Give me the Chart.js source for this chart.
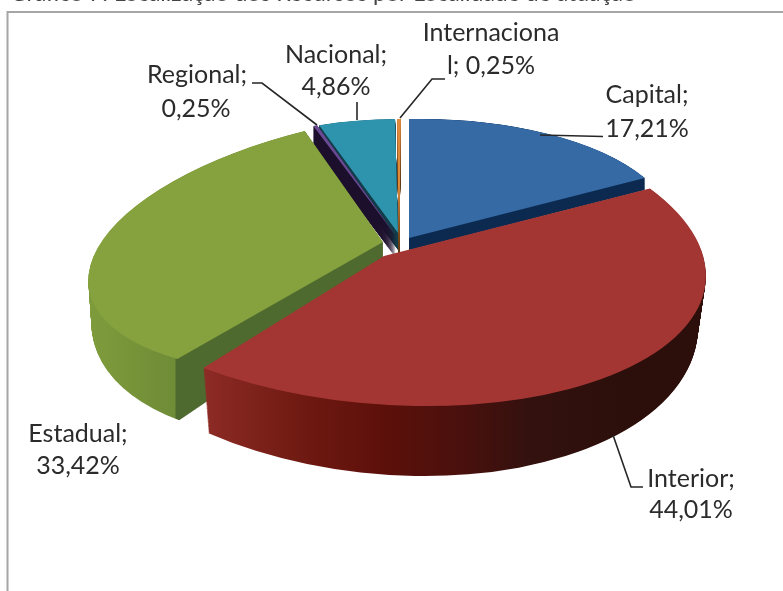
<!DOCTYPE html>
<html>
<head>
<meta charset="utf-8">
<title>Localização dos recursos</title>
<script src="https://cdn.jsdelivr.net/npm/chart.js@4/dist/chart.umd.min.js"></script>
<style>
  html, body { margin: 0; padding: 0; background: #fff; overflow: hidden; }
  #frame { position: absolute; left: 0; top: 0; width: 783px; height: 591px; }
</style>
</head>
<body>
<div id="frame"><canvas id="pie-chart" width="783" height="591"></canvas></div>
<script>
// Data
var categories = ['Capital', 'Interior', 'Estadual', 'Regional', 'Nacional', 'Internacional'];
var shares = [17.21, 44.01, 33.42, 0.25, 4.86, 0.25];
var shareLabels = ['17,21%', '44,01%', '33,42%', '0,25%', '4,86%', '0,25%'];
var titleText = 'Gráfico 7: Localização dos Recursos por Localidade de atuação';

var topColors = ['#356aa5', '#a33632', '#86a23e', '#6a4a93', '#2e93ad', '#e08a3c'];

// 3D look: each slice has a top face and a floor, given as an affine view of the unit pie
// [a, b, c, d, e, f] -> x' = a*x + b*y + e, y' = c*x + d*y + f
var views = {
  Capital: { top: [267, 0, -4.7, 119, 409, 238], floor: [267, 0, -4.7, 119, 409, 250] },
  Interior: { top: [320, 35, 3.4, 150, 384, 256], floor: [312, 35, 3, 171, 384, 305] },
  Estadual: { top: [294, -20, -30, 128, 383, 242], floor: [291, -20, -30, 156, 383, 282] },
  Regional: { top: [250, 0, -1, 117, 396, 236], floor: [250, 0, -1, 117, 396, 258] },
  Nacional: { top: [253, -1, -1, 114, 398, 233], floor: [253, -1, -1, 114, 398, 250] },
  Internacional: { top: [255, -2, 0, 131, 399, 250], floor: [255, -2, 0, 131, 399, 262] }
};
// back slices first, the big front one last
var drawOrder = ['Internacional', 'Nacional', 'Regional', 'Capital', 'Estadual', 'Interior'];

// wall shading runs across the screen: [x, colour] stops
var wallStops = {
  Capital: [[0, '#0c2a50'], [783, '#0c2a50']],
  Interior: [[203, '#8e2b26'], [300, '#6f1a12'], [380, '#5e100a'], [460, '#4a100d'], [530, '#33110e'], [620, '#2c0f0b'], [705, '#2c0f0b']],
  Estadual: [[88, '#7f9c3c'], [175, '#6f8c37'], [176, '#4f6a2e'], [385, '#4f6a2e']],
  Regional: [[0, '#1c0f2c'], [783, '#1c0f2c']],
  Nacional: [[0, '#123c4a'], [783, '#123c4a']],
  Internacional: [[0, '#5a3410'], [783, '#5a3410']]
};

// label spots as two lines: [x, baseline] each
var labelFont = '25px Lato';
var labelSpots = {
  Capital: [[647, 103], [647, 137]],
  Interior: [[691, 487], [691, 518]],
  Estadual: [[78, 442], [78, 474]],
  Regional: [[197, 83], [196, 117]],
  Nacional: [[336, 63], [336, 95]],
  Internacional: [[491, 41], [491, 74]]
};
var leaders = [
  [[540, 135], [603, 136.5]],
  [[613, 435], [631, 487], [643, 487]],
  [[252, 83], [262, 83], [317, 125]],
  [[357, 102], [357, 120]],
  [[445, 79], [432, 79], [400, 118]]
];

// the long name wraps inside the word in the original
function labelText(i) {
  var name = categories[i];
  if (name === 'Internacional') return ['Internaciona', 'l; ' + shareLabels[i]];
  return [name + ';', shareLabels[i]];
}

function drawArc(ctx, arc, view, fill) {
  var k = 1 / arc.outerRadius;
  var saved = arc.options;
  ctx.save();
  ctx.transform(view[0] * k, view[2] * k, view[1] * k, view[3] * k, view[4], view[5]);
  ctx.translate(-arc.x, -arc.y);
  arc.options = Object.assign({}, saved, { backgroundColor: fill });
  arc.draw(ctx);
  arc.options = saved;
  ctx.restore();
}

// sweep the slice from floor to top on a spare canvas, then tint it in screen space
function drawWall(ctx, arc, name) {
  var v = views[name];
  var spare = document.createElement('canvas');
  spare.width = ctx.canvas.width;
  spare.height = ctx.canvas.height;
  var sctx = spare.getContext('2d');
  var steps = 70;
  for (var s = steps; s > 0; s--) {
    var t = s / steps;
    var mix = v.top.map(function(n, j) { return n + (v.floor[j] - n) * t; });
    drawArc(sctx, arc, mix, '#000');
  }
  var stops = wallStops[name];
  var x0 = stops[0][0];
  var x1 = stops[stops.length - 1][0];
  var g = sctx.createLinearGradient(x0, 0, x1, 0);
  stops.forEach(function(st) {
    g.addColorStop((st[0] - x0) / (x1 - x0), st[1]);
  });
  sctx.globalCompositeOperation = 'source-in';
  sctx.fillStyle = g;
  sctx.fillRect(0, 0, spare.width, spare.height);
  ctx.drawImage(spare, 0, 0);
}

var pie3d = {
  id: 'pie3d',
  beforeDatasetsDraw: function(chart) {
    var ctx = chart.ctx;
    var arcs = chart.getDatasetMeta(0).data;
    drawOrder.forEach(function(name) {
      var i = categories.indexOf(name);
      drawWall(ctx, arcs[i], name);
      drawArc(ctx, arcs[i], views[name].top, topColors[i]);
    });
    return false;
  },
  afterDraw: function(chart) {
    var ctx = chart.ctx;
    ctx.save();
    // frame, only left and top edges are inside the crop
    ctx.strokeStyle = '#a6a6a6';
    ctx.lineWidth = 2;
    ctx.beginPath();
    ctx.moveTo(7.5, 591);
    ctx.lineTo(7.5, 12);
    ctx.lineTo(783, 12);
    ctx.stroke();
    // caption above the chart, mostly cut by the crop
    ctx.fillStyle = '#444';
    ctx.font = '23px Lato';
    ctx.textAlign = 'left';
    ctx.fillText(titleText, 10, 1);
    // leader lines
    ctx.strokeStyle = '#262626';
    ctx.lineWidth = 1.6;
    leaders.forEach(function(line) {
      ctx.beginPath();
      line.forEach(function(p, i) {
        if (i === 0) ctx.moveTo(p[0], p[1]); else ctx.lineTo(p[0], p[1]);
      });
      ctx.stroke();
    });
    // data labels
    ctx.fillStyle = '#2b2b2b';
    ctx.font = labelFont;
    ctx.textAlign = 'center';
    ctx.textBaseline = 'alphabetic';
    categories.forEach(function(name, i) {
      labelText(i).forEach(function(text, line) {
        var spot = labelSpots[name][line];
        ctx.fillText(text, spot[0], spot[1]);
      });
    });
    ctx.restore();
  }
};

new Chart(document.getElementById('pie-chart').getContext('2d'), {
  type: 'pie',
  data: {
    labels: categories,
    datasets: [{
      data: shares,
      backgroundColor: topColors,
      borderWidth: 0,
      radius: 100
    }]
  },
  options: {
    responsive: false,
    animation: false,
    layout: { padding: 0 },
    plugins: {
      legend: { display: false },
      tooltip: { enabled: false }
    }
  },
  plugins: [pie3d]
});
</script>
</body>
</html>
